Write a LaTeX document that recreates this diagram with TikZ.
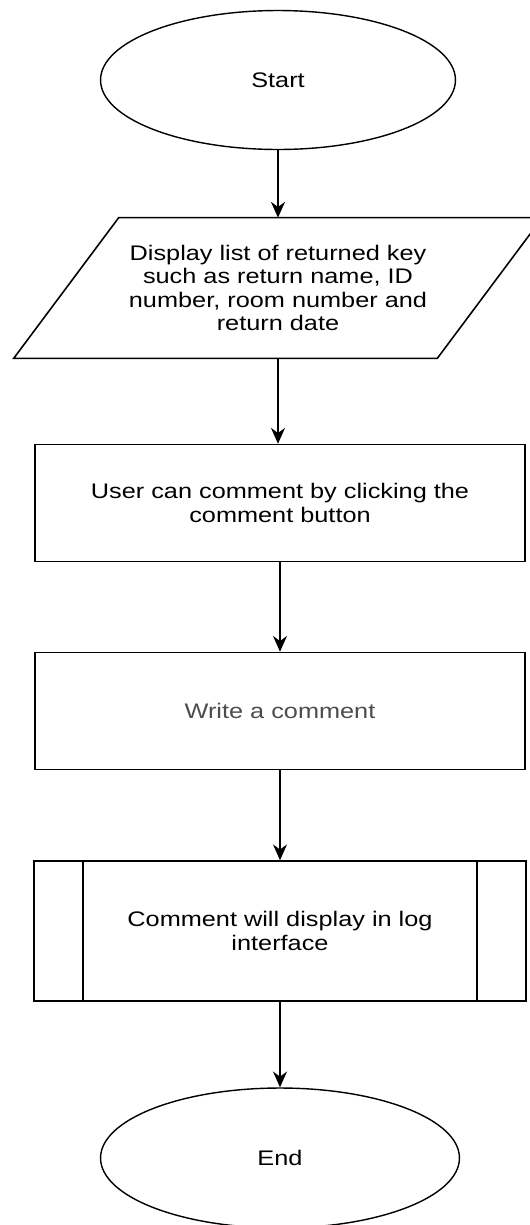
\documentclass[tikz,border=0pt]{standalone}
\usepackage{fontspec}
\setmainfont{Liberation Sans}[FakeStretch=1.2]
\usetikzlibrary{shapes.geometric,arrows.meta}

\tikzset{
  terminal/.style={draw,ellipse,line width=0.8pt,minimum width=7.1cm,minimum height=2.78cm},
  inout/.style={rectangle,inner sep=0pt,minimum width=6.36cm,minimum height=2.8cm,align=center},
  process/.style={draw,rectangle,line width=0.9pt,minimum width=9.8cm,minimum height=2.34cm,align=center},
  flowarrow/.style={line width=0.9pt,-{Stealth[length=9pt,width=8pt]}}
}

\begin{document}
\begin{tikzpicture}[x=0.02cm,y=-0.02cm,font=\fontsize{12}{13.2}\selectfont]

  \useasboundingbox (0,0) rectangle (530,1225);

  \node[terminal] (start) at (278,80) {Start};
  \node[inout] (list) at (278,288) {Display list of returned key\\such as return name, ID\\number, room number and\\return date};
  % slanted sides of the input/output box
  \draw[line width=0.9pt] ([xshift=-2.1cm]list.south west) -- (list.north west)
    -- ([xshift=2.1cm]list.north east) -- (list.south east) -- cycle;
  \node[process] (click) at (280,503) {User can comment by clicking the\\comment button};
  \node[process,text=black!70] (write) at (280,711) {Write a comment};
  \node[process,minimum width=9.84cm,minimum height=2.8cm] (log) at (280,931) {Comment will display in log\\interface};
  \draw[line width=0.9pt] ([xshift=1cm]log.north west) -- ([xshift=1cm]log.south west);
  \draw[line width=0.9pt] ([xshift=-1cm]log.north east) -- ([xshift=-1cm]log.south east);
  \node[terminal,minimum width=7.18cm,minimum height=2.8cm] (end) at (280,1158) {End};

  \draw[flowarrow] (start) -- (list);
  \draw[flowarrow] (list.south) -- (list.south |- click.north);
  \draw[flowarrow] (click) -- (write);
  \draw[flowarrow] (write) -- (log);
  \draw[flowarrow] (log) -- (end);
\end{tikzpicture}
\end{document}
